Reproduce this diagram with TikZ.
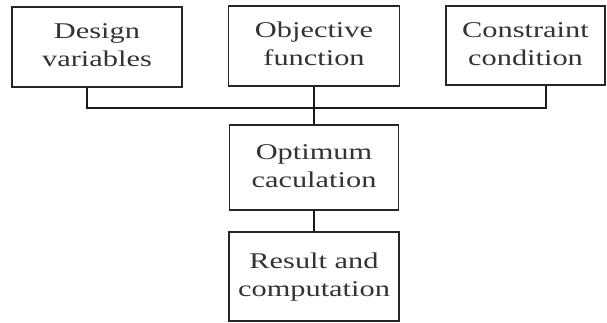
\documentclass[tikz,border=0pt]{standalone}
\usepackage{fontspec}
\setmainfont{Liberation Serif}
\usepackage{graphicx}
\newcommand{\boxtext}[1]{\scalebox{1.35}[1]{\begin{tabular}{@{}c@{}}#1\end{tabular}}}

\begin{document}
\begin{tikzpicture}[x=1pt, y=-1pt, font=\fontsize{22.5}{28}\selectfont,
	stagebox/.style={draw=black!85, line width=1.8pt, rectangle, text=black!80, inner sep=0pt},
	link/.style={draw=black!90, line width=1.6pt}]
	\useasboundingbox (0,0) rectangle (607,323);
	\node[stagebox, minimum width=170pt, minimum height=80pt] (design) at (97,47) {\boxtext{Design\\variables}};
	\node[stagebox, minimum width=171pt, minimum height=80pt] (objective) at (314,46) {\boxtext{Objective\\function}};
	\node[stagebox, minimum width=159pt, minimum height=79pt] (constraint) at (525.5,45.5) {\boxtext{Constraint\\condition}};
	\node[stagebox, minimum width=169pt, minimum height=85pt] (optimum) at (314,167.5) {\boxtext{Optimum\\caculation}};
	\node[stagebox, minimum width=170pt, minimum height=89pt] (result) at (314,276.5) {\boxtext{Result and\\computation}};
	% collecting bus
	\coordinate (busL) at (87,108);
	\coordinate (busR) at (546,108);
	\draw[link] (design.south -| busL) -- (busL) -- (busR) -- (constraint.south -| busR);
	\draw[link] (objective) -- (optimum);
	\draw[link] (optimum) -- (result);
\end{tikzpicture}
\end{document}
